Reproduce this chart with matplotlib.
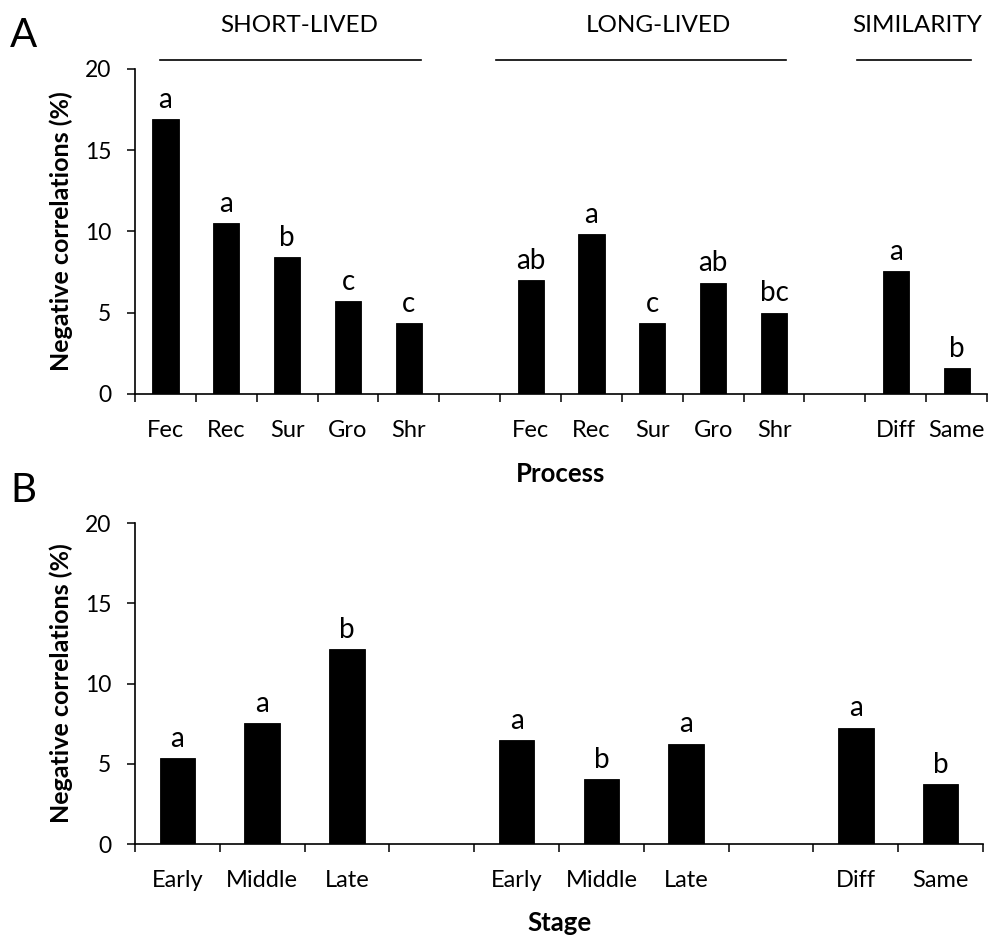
"""
Negative correlations (%) by process (A) and by stage (B),
split into short-lived / long-lived species and similarity.
"""

import matplotlib
matplotlib.use("Agg")
import matplotlib.pyplot as plt
from matplotlib.ticker import FixedLocator, NullFormatter

plt.rcParams["font.family"] = ["Lato", "DejaVu Sans"]

# ─── Data ─────────────────────────────────────────────────────────────────────
PROCESSES   = ["Fec", "Rec", "Sur", "Gro", "Shr"]
SHORT_PROC  = [16.9, 10.5, 8.4, 5.7, 4.35]
SHORT_PSIG  = ["a", "a", "b", "c", "c"]
LONG_PROC   = [7.0, 9.85, 4.35, 6.85, 5.0]
LONG_PSIG   = ["ab", "a", "c", "ab", "bc"]

SIMILARITY  = ["Diff", "Same"]
SIM_PROC    = [7.55, 1.6]
SIM_PSIG    = ["a", "b"]

STAGES      = ["Early", "Middle", "Late"]
SHORT_STAGE = [5.35, 7.55, 12.15]
SHORT_SSIG  = ["a", "a", "b"]
LONG_STAGE  = [6.48, 4.05, 6.25]
LONG_SSIG   = ["a", "b", "a"]
SIM_STAGE   = [7.25, 3.75]
SIM_SSIG    = ["a", "b"]

HEADERS      = ["SHORT-LIVED", "LONG-LIVED", "SIMILARITY"]
HEADER_SPANS = [(-0.09, 4.2), (5.43, 10.2), (11.37, 13.24)]
HEADER_TEXTX = [2.2, 8.1, 12.35]

YTICKS = [0, 5, 10, 15, 20]


def _layout(groups):
    """Concatenate groups of (labels, values, letters) with one empty slot between."""
    labels, values, sigs, pos = [], [], [], []
    x = 0
    for gi, (lab, val, sig) in enumerate(groups):
        for l, v, s in zip(lab, val, sig):
            labels.append(l); values.append(v); sigs.append(s); pos.append(x)
            x += 1
        if gi < len(groups) - 1:
            x += 1
    return labels, values, sigs, pos, x


def _panel(ax, groups, width, xlabel):
    labels, values, sigs, pos, n = _layout(groups)
    ax.bar(pos, values, width=width, color="black", edgecolor="black", linewidth=0.6)
    for x, v, s in zip(pos, values, sigs):
        ax.annotate(s, (x, v), xytext=(0, 4.5), textcoords="offset points",
                    ha="center", va="bottom", fontsize=20)

    ax.set_xlim(-0.5, n - 0.5)
    ax.set_ylim(0, 20)
    ax.set_yticks(YTICKS)
    ax.set_xticks(pos)
    ax.set_xticklabels(labels)
    ax.xaxis.set_minor_locator(FixedLocator([i - 0.5 for i in range(n + 1)]))
    ax.xaxis.set_minor_formatter(NullFormatter())

    for side in ("top", "right"):
        ax.spines[side].set_visible(False)
    for side in ("left", "bottom"):
        ax.spines[side].set_linewidth(1.2)

    ax.tick_params(axis="x", which="major", length=0, pad=18.5, labelsize=17)
    ax.tick_params(axis="x", which="minor", length=6, width=1.1, direction="out")
    ax.tick_params(axis="y", length=6, width=1.1, direction="out", pad=11, labelsize=16.5)

    ax.set_ylabel("Negative correlations (%)", fontsize=18, fontweight="bold")
    ax.yaxis.set_label_coords(-0.073, 0.5)
    ax.text(0.5, -0.245, xlabel, transform=ax.transAxes, ha="center", va="center",
            fontsize=18.5, fontweight="bold")


fig = plt.figure(figsize=(9.9, 9.4), dpi=100)

# ─── Panel A ──────────────────────────────────────────────────────────────────
ax_a = fig.add_axes([0.1364, 0.5809, 0.8606, 0.3457])
_panel(ax_a,
       [(PROCESSES, SHORT_PROC, SHORT_PSIG),
        (PROCESSES, LONG_PROC, LONG_PSIG),
        (SIMILARITY, SIM_PROC, SIM_PSIG)],
       width=0.43, xlabel="Process")

for name, (x0, x1), tx in zip(HEADERS, HEADER_SPANS, HEADER_TEXTX):
    ax_a.plot([x0, x1], [20.55, 20.55], color="black", lw=1.2, clip_on=False)
    ax_a.text(tx, 22.7, name, ha="center", va="center", fontsize=17.5, clip_on=False)

fig.text(0.010, 0.962, "A", fontsize=29, ha="left", va="center")

# ─── Panel B ──────────────────────────────────────────────────────────────────
ax_b = fig.add_axes([0.1364, 0.1021, 0.8566, 0.3415])
_panel(ax_b,
       [(STAGES, SHORT_STAGE, SHORT_SSIG),
        (STAGES, LONG_STAGE, LONG_SSIG),
        (SIMILARITY, SIM_STAGE, SIM_SSIG)],
       width=0.42, xlabel="Stage")

fig.text(0.010, 0.478, "B", fontsize=29, ha="left", va="center")

fig.savefig("out.png", dpi=100, facecolor="white")
